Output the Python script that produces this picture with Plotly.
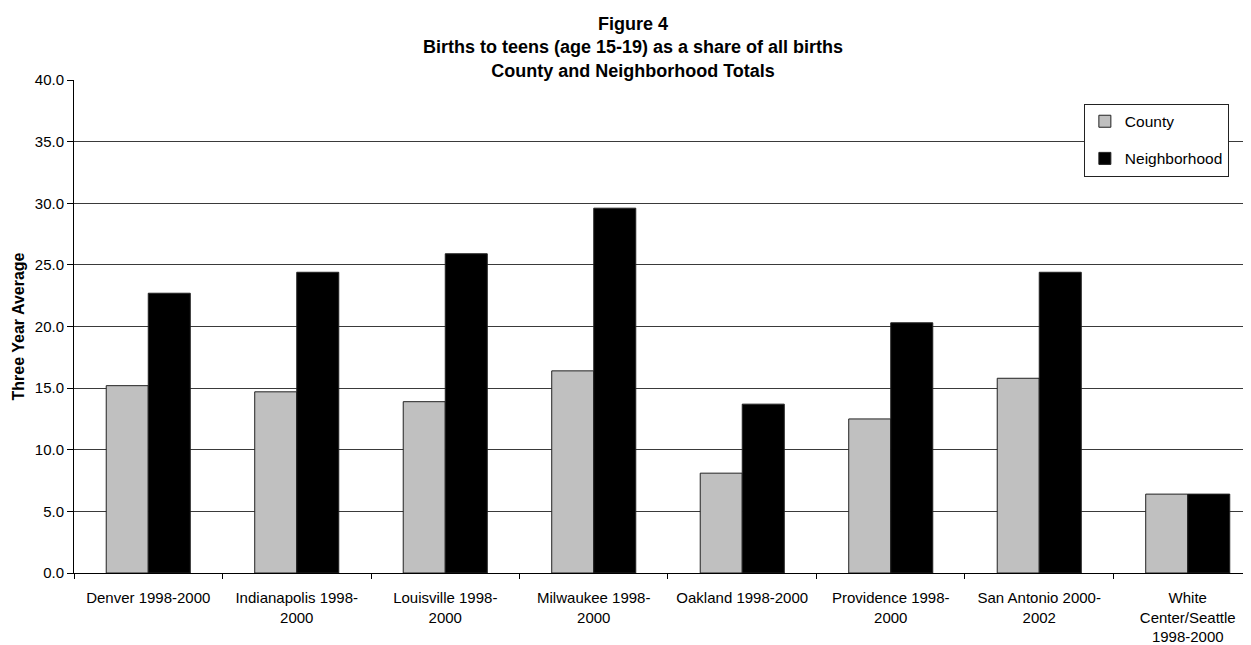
import plotly.graph_objects as go

categories = ["Denver 1998-2000", "Indianapolis 1998-2000", "Louisville 1998-2000",
              "Milwaukee 1998-2000", "Oakland 1998-2000", "Providence 1998-2000",
              "San Antonio 2000-2002", "White Center/Seattle 1998-2000"]
tick_labels = ["Denver 1998-2000", "Indianapolis 1998-<br>2000", "Louisville 1998-<br>2000",
               "Milwaukee 1998-<br>2000", "Oakland 1998-2000", "Providence 1998-<br>2000",
               "San Antonio 2000-<br>2002", "White<br>Center/Seattle<br>1998-2000"]
county = [15.2, 14.7, 13.9, 16.4, 8.1, 12.5, 15.8, 6.4]
neighborhood = [22.7, 24.4, 25.9, 29.6, 13.7, 20.3, 24.4, 6.4]
y_ticks = [0, 5, 10, 15, 20, 25, 30, 35, 40]

FONT = "Liberation Sans, Arial, sans-serif"
W, H = 1243, 637

fig = go.Figure()
fig.add_trace(go.Bar(x=categories, y=county, name="County", legendgroup="c",
                     marker=dict(color="#C0C0C0", line=dict(color="#222222", width=1))))
fig.add_trace(go.Bar(x=categories, y=neighborhood, name="Neighborhood", legendgroup="n",
                     marker=dict(color="#000000", line=dict(color="#222222", width=1))))

fig.update_layout(
    width=W, height=H,
    margin=dict(l=66, r=0, t=72, b=72, autoexpand=False),
    paper_bgcolor="white", plot_bgcolor="white",
    font=dict(family=FONT, size=15, color="black"),
    barmode="group", bargap=0.434, bargroupgap=0,
    title=dict(text="<b>Figure 4<br>Births to teens (age 15-19) as a share of all births<br>County and Neighborhood Totals</b>",
               font=dict(family=FONT, size=18, color="black"),
               x=625 / W, xanchor="center", xref="container",
               y=1 - 22 / H, yanchor="top", yref="container"),
    legend=dict(x=0.858, y=0.952, xanchor="left", yanchor="top",
                bgcolor="white", bordercolor="#222222", borderwidth=1,
                font=dict(family=FONT, size=15.5, color="black"),
                traceorder="grouped", tracegroupgap=14),
    showlegend=True,
)
fig.update_xaxes(
    tickvals=categories, ticktext=tick_labels, tickson="boundaries",
    range=[-0.5, 7.426], showline=True, linecolor="black", linewidth=1,
    ticks="outside", ticklen=5, tickcolor="black", showgrid=False,
    ticklabelstandoff=11, automargin=False,
    tickfont=dict(family=FONT, size=15, color="black"),
)
fig.update_yaxes(
    range=[0, 40], tickvals=y_ticks, tickformat=".1f",
    showline=True, linecolor="black", linewidth=1,
    ticks="outside", ticklen=6, tickcolor="black",
    showgrid=True, gridcolor="#3a3a3a", gridwidth=1, zeroline=False,
    automargin=False,
    tickfont=dict(family=FONT, size=15, color="black"),
    title=dict(text="<b>Three Year Average</b>", font=dict(family=FONT, size=16, color="black"), standoff=6),
)

fig.write_html("out.html")
